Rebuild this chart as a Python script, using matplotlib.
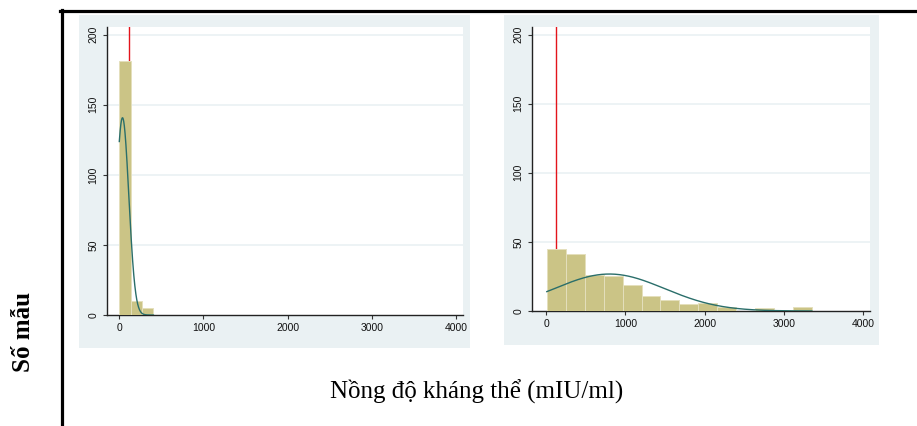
import numpy as np
import matplotlib.pyplot as plt
from matplotlib.patches import Rectangle
from matplotlib.lines import Line2D

# Histogram data
left_start = 0
left_binw = 135
left_counts = [181, 10, 5]

right_start = 10
right_binw = 239
right_counts = [45, 41, 26, 25, 19, 11, 8, 5, 6, 3, 0, 2, 1, 3]

# normal density overlays (mean, sd)
left_norm = (38, 75)
right_norm = (800, 695)

cutoff = 120  # red reference line
yticks = [0, 50, 100, 150, 200]
xticks = [0, 1000, 2000, 3000, 4000]

W, H = 917, 426
bar_color = '#CBC486'
bar_edge = '#E4DFBC'
curve_color = '#2A6E6A'
bg_color = '#EAF1F3'

plt.rcParams['font.family'] = ['Liberation Sans', 'DejaVu Sans']


def fig_box(x0, y0, x1, y1):
    # pixel box (top-left origin) -> figure fraction rect
    return [x0 / W, 1 - y1 / H, (x1 - x0) / W, (y1 - y0) / H]


def draw_panel(fig, bg, box, start, binw, counts, norm, xlim):
    b = fig_box(*bg)
    fig.patches.append(Rectangle((b[0], b[1]), b[2], b[3], transform=fig.transFigure,
                                 facecolor=bg_color, edgecolor='none', zorder=-5))
    ax = fig.add_axes(fig_box(*box))
    ax.set_zorder(2)
    ax.set_facecolor('white')
    edges = start + binw * np.arange(len(counts) + 1)
    ax.bar(edges[:-1], counts, width=binw, align='edge', color=bar_color,
           edgecolor=bar_edge, linewidth=0.7, zorder=3)
    ax.axvline(cutoff, color='#E3141B', lw=1, zorder=2)
    n = sum(counts)
    mu, sd = norm
    xs = np.linspace(edges[0], edges[-1], 300)
    ys = n * binw / (sd * np.sqrt(2 * np.pi)) * np.exp(-(xs - mu) ** 2 / (2 * sd ** 2))
    ax.plot(xs, ys, color=curve_color, lw=1, zorder=4)
    for t in yticks[1:]:
        ax.axhline(t, color=bg_color, lw=1.2, zorder=1)
    ax.set_xlim(*xlim)
    ax.set_ylim(0, 205.5)
    ax.set_xticks(xticks)
    ax.set_yticks(yticks)
    ax.set_yticklabels([str(t) for t in yticks], rotation=90, va='center')
    ax.tick_params(length=3, width=0.8, color='#333333', labelsize=7.5, pad=3,
                   labelcolor='#111111')
    for s in ['top', 'right']:
        ax.spines[s].set_visible(False)
    for s in ['left', 'bottom']:
        ax.spines[s].set_color('#222222')
        ax.spines[s].set_linewidth(1)
    return ax


fig = plt.figure(figsize=(W / 100, H / 100), dpi=100)
fig.patch.set_facecolor('white')

draw_panel(fig, (79, 15, 470, 348), (107, 27, 463, 315),
           left_start, left_binw, left_counts, left_norm, (-146, 4082))
draw_panel(fig, (504, 15, 879, 345), (532, 27, 870, 311),
           right_start, right_binw, right_counts, right_norm, (-177, 4088))

# black frame lines
fig.add_artist(Line2D([60 / W, 1], [1 - 10.5 / H, 1 - 10.5 / H], color='black', lw=2.3,
                      transform=fig.transFigure))
fig.add_artist(Line2D([61.5 / W, 61.5 / W], [0, 1 - 9.5 / H], color='black', lw=2.3,
                      transform=fig.transFigure))

fig.text(477 / W, 1 - 392 / H, 'Nồng độ kháng thể (mIU/ml)', family='Liberation Serif',
         fontsize=18, ha='center', va='center')
fig.text(24 / W, 1 - 332 / H, 'Số mẫu', family='Liberation Serif', fontweight='bold',
         fontsize=18, rotation=90, ha='center', va='center')

fig.savefig('out.png', dpi=100)
